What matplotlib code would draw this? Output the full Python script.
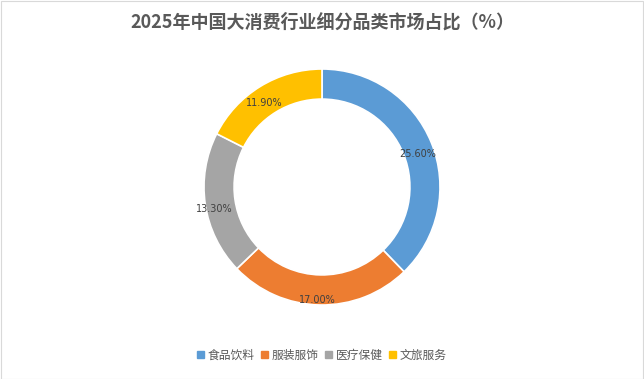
import matplotlib
matplotlib.use("Agg")
import matplotlib.pyplot as plt
import numpy as np

plt.rcParams['font.family'] = ['Noto Sans CJK SC', 'DejaVu Sans']

categories = ["食品饮料", "服装服饰", "医疗保健", "文旅服务"]
values = [25.60, 17.00, 13.30, 11.90]
labels = ["25.60%", "17.00%", "13.30%", "11.90%"]
colors = ["#5B9BD5", "#ED7D31", "#A5A5A5", "#FFC000"]
title = "2025年中国大消费行业细分品类市场占比（%）"

W, H = 644, 379
fig = plt.figure(figsize=(W / 100, H / 100), dpi=100)
fig.patch.set_facecolor("white")

# border
border = plt.Rectangle((0.5 / W, 0.5 / H), 1 - 1.5 / W, 1 - 1.5 / H, transform=fig.transFigure,
                       fill=False, edgecolor="#D9D9D9", linewidth=0.8)
fig.add_artist(border)

R = 118
cx, cy = 322, 187
ax = fig.add_axes([(cx - R) / W, (H - cy - R) / H, 2 * R / W, 2 * R / H])
wedges, _ = ax.pie(values, colors=colors, startangle=90, counterclock=False, radius=1.0,
                   wedgeprops=dict(width=0.255, edgecolor="white", linewidth=1.2))
ax.set_xlim(-1, 1)
ax.set_ylim(-1, 1)
ax.set_aspect("equal")
ax.axis("off")

rl = 0.9
for w, lab in zip(wedges, labels):
    ang = np.deg2rad((w.theta1 + w.theta2) / 2)
    ax.text(rl * np.cos(ang) - 0.02, rl * np.sin(ang) - 0.055, lab, ha="center", va="center",
            fontsize=7, color="#404040", family=["DejaVu Sans"])

fig.text(0.5, 1 - 22 / H, title, ha="center", va="center", fontsize=13,
         fontweight="bold", color="#595959")

handles = [plt.Rectangle((0, 0), 1, 1, color=c) for c in colors]
fig.legend(handles, categories, loc="center", bbox_to_anchor=(0.5, 1 - 355 / H), ncol=4,
           frameon=False, fontsize=8.5, labelcolor="#595959", handlelength=0.55,
           handleheight=0.55, handletextpad=0.35, columnspacing=0.55)

fig.savefig("out.png", dpi=100, facecolor="white")
